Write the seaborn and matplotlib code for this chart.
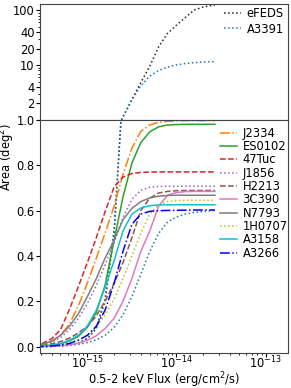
import numpy as np
import pandas as pd
import matplotlib
matplotlib.use("Agg")
import matplotlib.pyplot as plt
import matplotlib.ticker as mticker
import seaborn as sns

# ---------------- data ----------------
FLUX = [2.51e-16, 3.16e-16, 3.98e-16, 5.01e-16, 6.31e-16, 7.94e-16,
        1.00e-15, 1.26e-15, 1.58e-15, 2.00e-15, 2.51e-15, 3.16e-15,
        3.98e-15, 5.01e-15, 6.31e-15, 7.94e-15, 1.00e-14, 1.26e-14,
        1.58e-14, 2.00e-14, 2.70e-14]

EFEDS = [0.0, 0.0, 0.001, 0.003, 0.007, 0.015, 0.035, 0.08, 0.2, 0.5, 1.14,
         2.35, 4.8, 9.5, 21.6, 37.8, 53.6, 74.0, 101.0, 115.0, 125.0]
A3391 = [0.0, 0.0, 0.001, 0.003, 0.007, 0.016, 0.037, 0.085, 0.21, 0.52, 1.14,
         2.3, 4.2, 6.3, 8.0, 9.2, 10.1, 10.7, 11.1, 11.4, 11.6]

J2334 = [0.006, 0.01, 0.022, 0.05, 0.1, 0.18, 0.28, 0.39, 0.50, 0.62, 0.76,
         0.875, 0.95, 0.978, 0.99, 0.994, 0.996, 0.997, 0.997, 0.997, 0.997]
ES0102 = [0.002, 0.003, 0.006, 0.012, 0.025, 0.045, 0.085, 0.15, 0.27, 0.47, 0.66,
          0.81, 0.9, 0.948, 0.97, 0.978, 0.98, 0.981, 0.981, 0.981, 0.981]
TUC47 = [0.008, 0.015, 0.035, 0.075, 0.165, 0.265, 0.37, 0.48, 0.595, 0.705, 0.748,
         0.764, 0.769, 0.77, 0.771, 0.771, 0.771, 0.771, 0.771, 0.771, 0.771]
J1856 = [0.004, 0.008, 0.02, 0.04, 0.075, 0.125, 0.19, 0.27, 0.36, 0.46, 0.57,
         0.65, 0.69, 0.703, 0.707, 0.708, 0.708, 0.708, 0.708, 0.708, 0.708]
H2213 = [0.003, 0.006, 0.012, 0.022, 0.038, 0.06, 0.09, 0.135, 0.2, 0.28, 0.37,
         0.48, 0.6, 0.655, 0.678, 0.685, 0.688, 0.689, 0.689, 0.689, 0.689]
C390 = [0.0005, 0.001, 0.002, 0.004, 0.008, 0.015, 0.028, 0.048, 0.08, 0.125, 0.2,
        0.3, 0.42, 0.51, 0.62, 0.668, 0.68, 0.684, 0.685, 0.685, 0.685]
N7793 = [0.005, 0.01, 0.025, 0.05, 0.09, 0.145, 0.22, 0.30, 0.39, 0.47, 0.56,
         0.61, 0.64, 0.656, 0.664, 0.667, 0.668, 0.668, 0.668, 0.668, 0.668]
H0707 = [0.001, 0.002, 0.004, 0.009, 0.017, 0.03, 0.05, 0.085, 0.14, 0.21, 0.3,
         0.4, 0.5, 0.585, 0.625, 0.64, 0.645, 0.646, 0.646, 0.646, 0.646]
A3158 = [0.002, 0.003, 0.007, 0.014, 0.028, 0.05, 0.09, 0.16, 0.26, 0.38, 0.51,
         0.585, 0.612, 0.622, 0.625, 0.626, 0.626, 0.626, 0.626, 0.626, 0.626]
A3266 = [0.0005, 0.001, 0.003, 0.007, 0.014, 0.028, 0.05, 0.09, 0.16, 0.28, 0.42,
         0.54, 0.585, 0.597, 0.6, 0.601, 0.602, 0.602, 0.603, 0.603, 0.603]
EXTRA = [0.0005, 0.001, 0.002, 0.003, 0.006, 0.01, 0.018, 0.03, 0.05, 0.085, 0.14,
         0.22, 0.32, 0.42, 0.5, 0.55, 0.572, 0.585, 0.592, 0.597, 0.601]

TOP_NAMES = ["eFEDS", "A3391"]
BOT_NAMES = ["J2334", "ES0102", "47Tuc", "J1856", "H2213", "3C390",
             "N7793", "1H0707", "A3158", "A3266"]
TOP_TICKS = [2, 4, 10, 20, 40, 100]
BOT_TICKS = [0.0, 0.2, 0.4, 0.6, 0.8, 1.0]

# ---------------- style ----------------
plt.rcParams["font.family"] = ["DejaVu Sans"]
plt.rcParams["font.size"] = 8.3
plt.rcParams["mathtext.fontset"] = "dejavusans"
for a in ("xtick", "ytick"):
    plt.rcParams[f"{a}.major.size"] = 2.6
    plt.rcParams[f"{a}.minor.size"] = 1.5
plt.rcParams["ytick.major.pad"] = 1.4
plt.rcParams["ytick.minor.pad"] = 1.4
plt.rcParams["xtick.major.pad"] = -1.4
plt.rcParams["xtick.minor.pad"] = -1.4
plt.rcParams["axes.edgecolor"] = "#444444"
plt.rcParams["axes.labelpad"] = -0.8

fig = plt.figure(figsize=(2.91, 3.88), dpi=100)
ax_top = fig.add_axes([0.1375, 0.6907, 0.8522, 0.2990])
ax_bot = fig.add_axes([0.1375, 0.0902, 0.8522, 0.6005])

for ax in (ax_top, ax_bot):
    ax.set_xscale("log")
ax_top.set_yscale("log")

LW = 1.1
top_specs = [(EFEDS, "k", ":", 0.85), (A3391, "#1f77b4", ":", 1.0)]
bot_specs = [(J2334, "#ff7f0e", "-."), (ES0102, "#2ca02c", "-"),
             (TUC47, "#d62728", "--"), (J1856, "#9467bd", ":"),
             (H2213, "#8c564b", "--"), (C390, "#e377c2", "-"),
             (N7793, "#7f7f7f", "-"), (H0707, "#bcbd22", ":"),
             (A3158, "#17becf", "-"), (A3266, "#0000ff", "-.")]

top_handles = []
for (vals, c, ls, a), name in zip(top_specs, TOP_NAMES):
    sns.lineplot(x=FLUX, y=vals, ax=ax_top, color=c, linestyle=ls, lw=LW, alpha=a)
    top_handles.append(ax_top.lines[-1])
    sns.lineplot(x=FLUX, y=vals, ax=ax_bot, color=c, linestyle=ls, lw=LW, alpha=a)

sns.lineplot(x=FLUX, y=EXTRA, ax=ax_bot, color="#1f77b4", linestyle=":", lw=LW)

bot_handles = []
for (vals, c, ls), name in zip(bot_specs, BOT_NAMES):
    sns.lineplot(x=FLUX, y=vals, ax=ax_bot, color=c, linestyle=ls, lw=LW)
    bot_handles.append(ax_bot.lines[-1])

xlim = (2.95e-16, 1.78e-13)
ax_top.set_xlim(*xlim)
ax_bot.set_xlim(*xlim)
ax_top.set_ylim(1.0, 130)
ax_bot.set_ylim(-0.028, 1.0)

ax_top.set_yticks(TOP_TICKS)
ax_top.yaxis.set_major_formatter(mticker.FuncFormatter(lambda v, p: f"{v:g}"))
ax_top.yaxis.set_minor_formatter(mticker.NullFormatter())
ax_top.tick_params(axis="x", which="both", bottom=False, labelbottom=False)
ax_bot.set_yticks(BOT_TICKS)
ax_bot.yaxis.set_major_formatter(mticker.FuncFormatter(lambda v, p: f"{v:.1f}"))

ax_top.set_xlabel("")
ax_top.set_ylabel("")
ax_bot.set_ylabel("")
ax_bot.set_xlabel("0.5-2 keV Flux (erg/cm$^2$/s)")
fig.text(0.025, 0.595, "Area (deg$^2$)", rotation=90, ha="center", va="center")

ax_top.legend(top_handles, TOP_NAMES, loc="upper left", frameon=False,
              bbox_to_anchor=(0.77, 0.982), bbox_transform=fig.transFigure,
              borderpad=0, borderaxespad=0, handlelength=1.5, handletextpad=0.45,
              labelspacing=0.22)
ax_bot.legend(bot_handles, BOT_NAMES, loc="upper left", frameon=False,
              bbox_to_anchor=(0.756, 0.6735), bbox_transform=fig.transFigure,
              borderpad=0, borderaxespad=0, handlelength=1.5, handletextpad=0.45,
              labelspacing=0.03)

fig.savefig("out.png", dpi=100)
